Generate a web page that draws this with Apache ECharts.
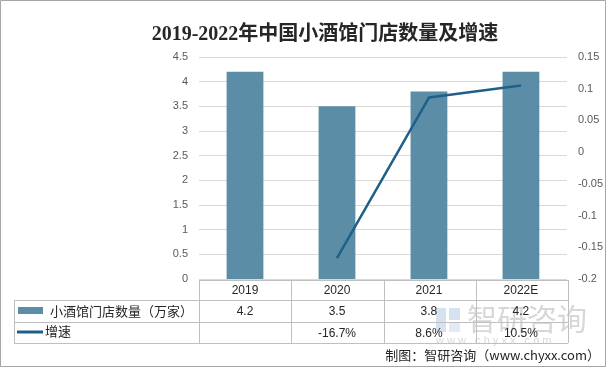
<!DOCTYPE html>
<html><head><meta charset="utf-8">
<script src="https://cdn.jsdelivr.net/npm/echarts@6/dist/echarts.min.js"></script>
<style>html,body{margin:0;padding:0;background:#fff}#c{width:606px;height:367px}</style>
</head><body><div id="c"></div>
<script>
var categories = ['2019', '2020', '2021', '2022E'];
var storeCounts = [4.2, 3.5, 3.8, 4.2];
var growthRates = [null, -0.167, 0.086, 0.105];
var storeLabels = ['4.2', '3.5', '3.8', '4.2'];
var growthLabels = ['', '-16.7%', '8.6%', '10.5%'];
var seriesNames = ['小酒馆门店数量（万家）', '增速'];
var titleText = '2019-2022年中国小酒馆门店数量及增速';
var sourceText = '制图：智研咨询（www.chyxx.com）';

var chart = echarts.init(document.getElementById('c'), null, {renderer: 'canvas'});
var labelFont = 'Liberation Sans, Arial, sans-serif';
var cjkFont = 'Noto Sans CJK SC, sans-serif';
var option = {
  animation: false,
  backgroundColor: '#fff',
  grid: {left: 199, right: 38, top: 57, bottom: 88},
  xAxis: {type: 'category', data: categories,
    axisLine: {show: false}, axisTick: {show: false},
    axisLabel: {color: '#262626', fontSize: 12, fontFamily: labelFont, margin: 6}},
  yAxis: [
    {type: 'value', min: 0, max: 4.5, interval: 0.5,
     axisLine: {show: false}, axisTick: {show: false},
     axisLabel: {color: '#595959', fontSize: 11, fontFamily: labelFont, margin: 11},
     splitLine: {lineStyle: {color: '#d9d9d9'}}},
    {type: 'value', min: -0.2, max: 0.15, interval: 0.05,
     axisLine: {show: false}, axisTick: {show: false},
     axisLabel: {color: '#595959', fontSize: 11, fontFamily: labelFont, margin: 11,
       formatter: function (v) { return String(Math.round(v * 100) / 100); }},
     splitLine: {show: false}}
  ],
  series: [
    {name: seriesNames[0], type: 'bar', data: storeCounts, barWidth: '40%', itemStyle: {color: '#5b8ea6'}},
    {name: seriesNames[1], type: 'line', yAxisIndex: 1, data: growthRates, symbol: 'none', connectNulls: false,
     lineStyle: {color: '#1f6088', width: 2.5}}
  ]
};
chart.setOption(option);

var xs = categories.map(function (c) { return chart.convertToPixel({xAxisIndex: 0}, c); });
var gl = 199, gr = 568, tl = 14;
var rowY = [280, 300, 322, 343];
var els = [];
var lc = '#bfbfbf';
function line(x1, y1, x2, y2) { els.push({type: 'line', shape: {x1: x1, y1: y1, x2: x2, y2: y2}, style: {stroke: lc, lineWidth: 1}}); }
// watermark (behind)
els.push({type: 'rect', z: 0, shape: {x: 436, y: 308, width: 10, height: 24}, style: {fill: 'rgba(110,150,200,0.28)'}});
els.push({type: 'rect', z: 0, shape: {x: 449, y: 308, width: 11, height: 12}, style: {fill: 'rgba(110,150,200,0.28)'}});
els.push({type: 'rect', z: 0, shape: {x: 449, y: 323, width: 11, height: 9}, style: {fill: 'rgba(110,150,200,0.2)'}});
els.push({type: 'text', z: 0, style: {text: '智研咨询', x: 467, y: 319, verticalAlign: 'middle', fill: 'rgba(150,150,150,0.38)', font: '30px ' + cjkFont}});
els.push({type: 'text', z: 0, style: {text: 'w w w . c h y x x . c o m', x: 436, y: 341, verticalAlign: 'middle', fill: 'rgba(150,150,150,0.38)', font: '11px ' + labelFont}});
// title
els.push({type: 'text', style: {text: titleText, x: 325, y: 35, align: 'center', verticalAlign: 'middle', fill: '#262626', font: 'bold 20px Liberation Serif, Noto Sans CJK SC, serif'}});
// table lines
line(gl, rowY[0] + 0.5, gr, rowY[0] + 0.5);
for (var r = 1; r < 4; r++) line(tl, rowY[r] + 0.5, gr, rowY[r] + 0.5);
line(tl + 0.5, rowY[1], tl + 0.5, rowY[3]);
var colW = (gr - gl) / categories.length;
for (var i = 0; i <= categories.length; i++) { var vx = Math.round(gl + colW * i) + 0.5; line(vx, rowY[0], vx, rowY[3]); }
for (var j = 0; j < categories.length; j++) {
  els.push({type: 'text', style: {text: storeLabels[j], x: xs[j], y: (rowY[1] + rowY[2]) / 2 + 1, align: 'center', verticalAlign: 'middle', fill: '#262626', font: '12px ' + labelFont}});
  els.push({type: 'text', style: {text: growthLabels[j], x: xs[j], y: (rowY[2] + rowY[3]) / 2 + 1, align: 'center', verticalAlign: 'middle', fill: '#262626', font: '12px ' + labelFont}});
}
// legend keys
els.push({type: 'rect', shape: {x: 18, y: 307, width: 25, height: 7}, style: {fill: '#5b8ea6'}});
els.push({type: 'text', style: {text: seriesNames[0], x: 50, y: 311, verticalAlign: 'middle', fill: '#262626', font: '13px ' + cjkFont}});
els.push({type: 'line', shape: {x1: 17, y1: 332, x2: 43, y2: 332}, style: {stroke: '#1f6088', lineWidth: 3}});
els.push({type: 'text', style: {text: seriesNames[1], x: 45, y: 331, verticalAlign: 'middle', fill: '#262626', font: '13px ' + cjkFont}});
// source
els.push({type: 'text', style: {text: sourceText, x: 600, y: 355, align: 'right', verticalAlign: 'middle', fill: '#262626', font: '13px ' + cjkFont}});
// frame
els.push({type: 'rect', shape: {x: 0.5, y: 0.5, width: 605, height: 366}, style: {fill: 'none', stroke: '#a6a6a6', lineWidth: 1}});
chart.setOption({graphic: {elements: els}});
</script></body></html>
